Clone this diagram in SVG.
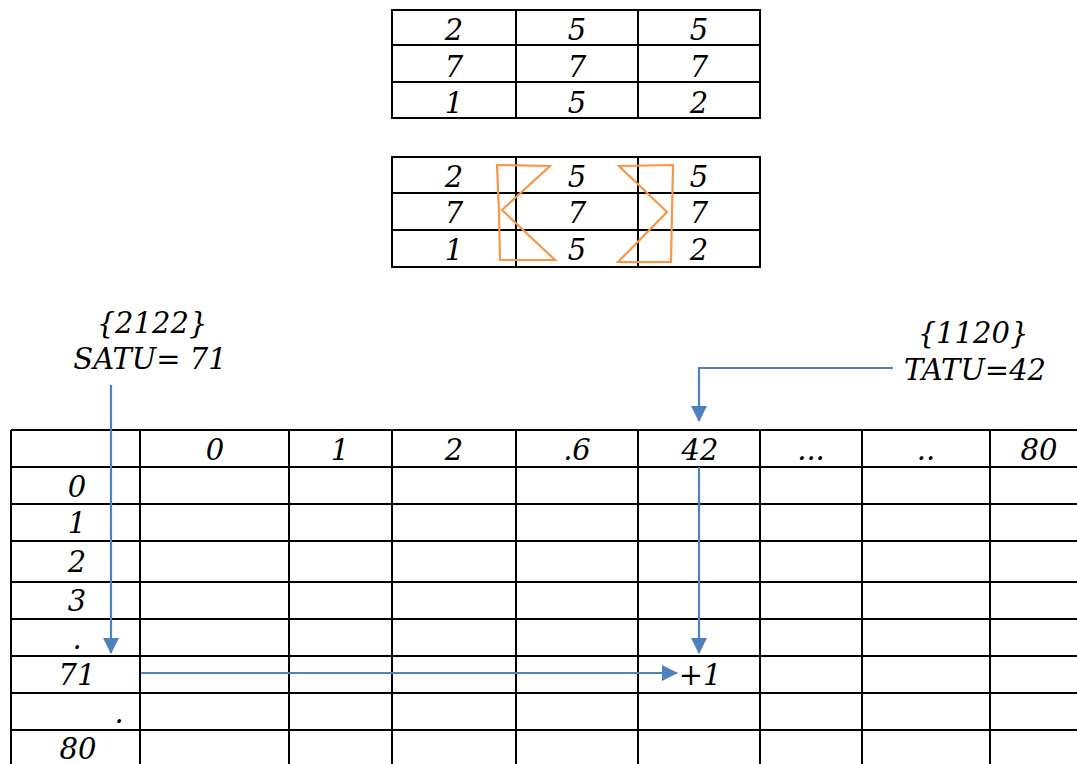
<svg xmlns="http://www.w3.org/2000/svg" width="1077" height="764" viewBox="0 0 1077 764">
<defs>
<style>
.t{font-family:"DejaVu Serif","Liberation Serif",serif;font-style:italic;font-size:29px;fill:#000;text-anchor:middle}
.g{stroke:#000;stroke-width:2;fill:none}
.o{stroke:#F79646;stroke-width:2.2;fill:none;stroke-linejoin:miter}
.b{stroke:#4F81BD;stroke-width:2.2;fill:none}
</style>
<marker id="ah" viewBox="0 0 16 16" refX="15" refY="8" markerWidth="16" markerHeight="16" markerUnits="userSpaceOnUse" orient="auto">
<path d="M0,0 L16,8 L0,16 Z" fill="#4F81BD"/>
</marker>
</defs>
<rect width="1077" height="764" fill="#fff"/>

<g id="table1">
<path class="g" d="M392,10 H760 V118 H392 Z M392,45 H760 M392,82 H760 M516,10 V118 M638,10 V118"/>
<text class="t" x="454" y="40">2</text><text class="t" x="577" y="40">5</text><text class="t" x="699" y="40">5</text>
<text class="t" x="454" y="77">7</text><text class="t" x="577" y="77">7</text><text class="t" x="699" y="77">7</text>
<text class="t" x="454" y="113">1</text><text class="t" x="577" y="113">5</text><text class="t" x="699" y="113">2</text>
</g>

<g id="table2">
<path class="g" d="M392,157 H760 V267 H392 Z M392,193 H760 M392,230 H760 M516,157 V267 M638,157 V267"/>
<text class="t" x="454" y="187">2</text><text class="t" x="577" y="187">5</text><text class="t" x="699" y="187">5</text>
<text class="t" x="454" y="223">7</text><text class="t" x="577" y="223">7</text><text class="t" x="699" y="223">7</text>
<text class="t" x="454" y="260">1</text><text class="t" x="577" y="260">5</text><text class="t" x="699" y="260">2</text>
</g>

<g id="orange-left">
<path class="o" d="M497,165 L550,166 L502,210 L555,260 L500,260 L499,212 Z"/>
</g>
<g id="orange-right">
<path class="o" d="M619,166 L673,165 L671,262 L618,262 L667,212 Z"/>
</g>

<g id="label-satu">
<text class="t" x="152" y="333" font-size="28">{2122}</text>
<text class="t" x="150" y="369" font-size="28">SATU= 71</text>
</g>
<g id="label-tatu">
<text class="t" x="973" y="343" font-size="28">{1120}</text>
<text class="t" x="975" y="380" font-size="28">TATU=42</text>
</g>

<g id="bigtable">
<path class="g" d="M11,430 H1077 M11,467 H1077 M11,504 H1077 M11,541 H1077 M11,582 H1077 M11,619 H1077 M11,656 H1077 M11,693 H1077 M11,730 H1077 M11,430 V764 M140,430 V764 M289,430 V764 M392,430 V764 M516,430 V764 M638,430 V764 M760,430 V764 M862,430 V764 M990,430 V764"/>
<text class="t" x="215" y="460">0</text>
<text class="t" x="340" y="460">1</text>
<text class="t" x="454" y="460">2</text>
<text class="t" x="577" y="460">.6</text>
<text class="t" x="700" y="460">42</text>
<text class="t" x="811" y="460">...</text>
<text class="t" x="926" y="460">..</text>
<text class="t" x="1039" y="460">80</text>
<text class="t" x="77" y="497">0</text>
<text class="t" x="77" y="533">1</text>
<text class="t" x="77" y="572">2</text>
<text class="t" x="77" y="611">3</text>
<text class="t" x="77" y="649">.</text>
<text class="t" x="77" y="685">71</text>
<text class="t" x="119" y="723">.</text>
<text class="t" x="78" y="759">80</text>
<text class="t" x="700" y="685">+1</text>
</g>

<g id="connectors">
<path class="b" d="M111,385 V653" marker-end="url(#ah)"/>
<path class="b" d="M893,368 H699 V421" marker-end="url(#ah)"/>
<path class="b" d="M699,467 V653" marker-end="url(#ah)"/>
<path class="b" d="M141,673 H677" marker-end="url(#ah)"/>
</g>
</svg>
